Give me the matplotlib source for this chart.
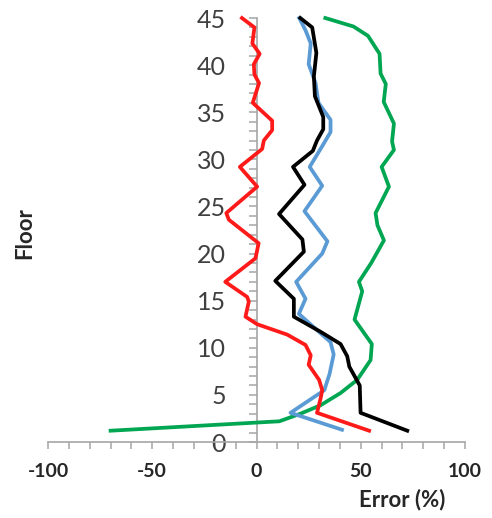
import matplotlib.pyplot as plt
from matplotlib.ticker import MultipleLocator

plt.rcParams['font.family'] = ['Lato', 'DejaVu Sans']
plt.rcParams['axes.unicode_minus'] = False

# error (%) per floor for each model
red_floor = [45, 44, 42.3, 41.2, 40.1, 39, 38.1, 36, 34.1, 33.1, 32, 31.1, 29.2, 27.1,
             24.3, 23.6, 21.1, 19.5, 17, 15.4, 14.9, 13.3, 12.5, 11.4, 10.3, 9.2, 8.2,
             6.6, 5.5, 4.6, 3.1, 1.2]
red_err = [-7, -1, -2, 1.5, -1.3, -1, 1.2, -1.8, 7.5, 7.5, 3.5, 2.7, -8, 0.3,
           -14.5, -13.3, 1, -0.5, -15, -4.5, -3.7, -5.3, 0.3, 14.7, 23.5, 26, 25,
           30, 31.5, 30.7, 29, 54]

blue_floor = [45, 43.7, 42.3, 40.1, 38.1, 36, 34.2, 32.9, 31.4, 29.2, 27.2, 24.5, 21.3,
              20, 17, 15.2, 13.6, 10.6, 9.3, 7.2, 5.5, 3.1, 1.3]
blue_err = [20.5, 23.5, 26, 25, 28.3, 29.7, 35.5, 35.5, 31.5, 25.5, 31.5, 23, 34,
            31.5, 19, 23.5, 20.3, 35.5, 37, 35, 32.5, 16.3, 41]

black_floor = [45, 44, 41.3, 38.8, 36.7, 34.5, 33.2, 32, 30.9, 29.2, 27.3, 24.2, 21.5,
               20.2, 17.1, 15.2, 13.3, 11.7, 10.4, 9.1, 8, 6, 3.1, 1.2]
black_err = [21, 26.7, 28.7, 27.5, 28, 32, 32, 29, 27, 17.5, 23, 10.8, 22,
             22.7, 9, 17.9, 17.9, 30.7, 40.3, 43.5, 44.5, 49.5, 49.9, 72.3]

green_floor = [45, 44.1, 43.1, 41.2, 39.1, 38, 36.1, 33.8, 31.9, 31, 29.2, 27.1, 24.3,
               23, 21.4, 19, 17, 16, 13, 10.4, 8.7, 6.6, 5.2, 3.9, 3, 2.2, 1.2]
green_err = [33, 46.5, 53.5, 59, 59.5, 62, 61, 65.9, 65, 65.9, 60, 63.5, 57.1,
             58, 61.1, 55, 49.1, 50.7, 47, 55.3, 54.7, 48.3, 40.3, 30.7, 21, 11, -70]

fig = plt.figure(figsize=(4.92, 5.18), dpi=100)
ax = fig.add_axes([0.0976, 0.1467, 0.8476, 0.8185])

lw = 2.7
ax.plot(green_err, green_floor, color='#00a651', lw=lw, clip_on=False, zorder=3,
        solid_joinstyle='round')
ax.plot(blue_err, blue_floor, color='#5b9bd5', lw=lw, clip_on=False, zorder=4,
        solid_joinstyle='round')
ax.plot(black_err, black_floor, color='black', lw=lw, clip_on=False, zorder=5,
        solid_joinstyle='round')
ax.plot(red_err, red_floor, color='#ff1a1a', lw=lw, clip_on=False, zorder=6,
        solid_joinstyle='round')

ax.set_xlim(-100, 100)
ax.set_ylim(0, 45)

for side in ['top', 'right']:
    ax.spines[side].set_visible(False)
ax.spines['left'].set_position(('data', 0))
for side in ['left', 'bottom']:
    ax.spines[side].set_color('#a6a6a6')
    ax.spines[side].set_linewidth(1.2)

ax.xaxis.set_major_locator(MultipleLocator(50))
ax.xaxis.set_minor_locator(MultipleLocator(10))
ax.yaxis.set_major_locator(MultipleLocator(5))
ax.yaxis.set_minor_locator(MultipleLocator(1))

ax.tick_params(axis='x', which='both', direction='out', length=5, width=1.1,
               color='#a6a6a6')
ax.tick_params(axis='x', which='major', pad=10, labelsize=14, labelcolor='#262626')
ax.tick_params(axis='y', which='both', direction='out', length=6, width=1.1,
               color='#a6a6a6')
ax.tick_params(axis='y', which='major', pad=16, labelsize=18, labelcolor='#404040')
for lab in ax.get_xticklabels():
    lab.set_fontweight('bold')

fig.text(0.817, 0.036, 'Error (%)', fontsize=16, fontweight='bold', color='#262626',
         ha='center', va='center')
fig.text(0.05, 0.55, 'Floor', fontsize=16, fontweight='bold', color='#262626',
         ha='center', va='center', rotation=90)

fig.savefig('out.png', dpi=100)
